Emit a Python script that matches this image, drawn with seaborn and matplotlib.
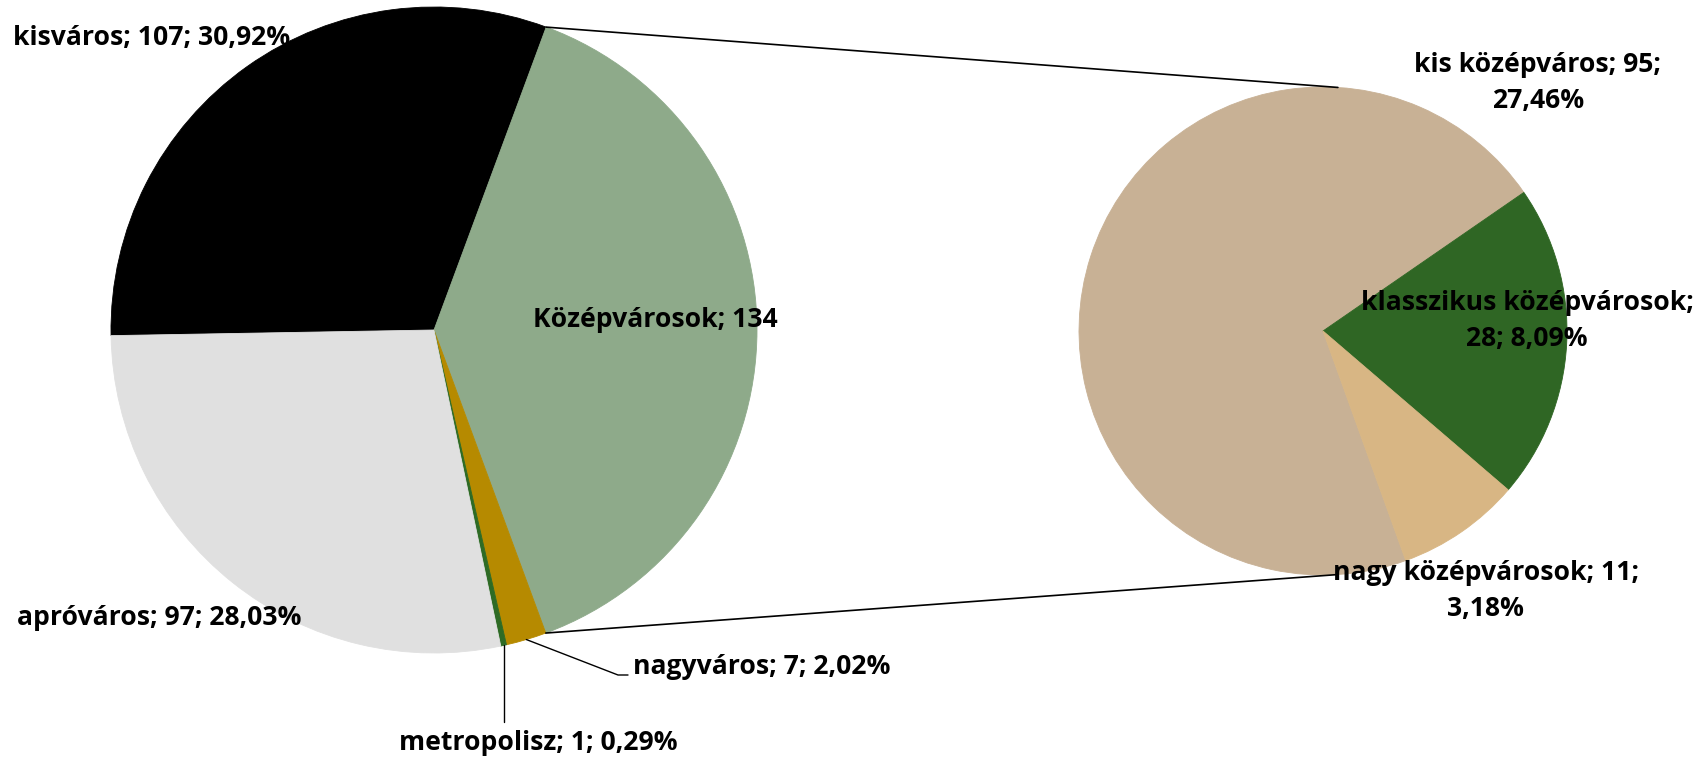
import matplotlib.pyplot as plt
import seaborn as sns
import numpy as np

# data
main_labels = ['kisváros', 'Középvárosok', 'nagyváros', 'metropolisz', 'apróváros']
main_values = [107, 134, 7, 1, 97]
sub_labels = ['kis középváros', 'klasszikus középvárosok', 'nagy középvárosok']
sub_values = [95, 28, 11]

main_colors = ['#000000', '#8eaa8a', '#b68a00', '#2e6b25', '#e0e0e0']
sub_colors = ['#c8b195', '#2f6624', '#d8b684']

total = sum(main_values)


def pct(v):
    return f'{100 * v / total:.2f}%'.replace('.', ',')


sns.set_theme(style='white')
plt.rcParams['font.family'] = ['Open Sans', 'DejaVu Sans']

W, H = 1708, 760
fig = plt.figure(figsize=(W / 100, H / 100), dpi=100)
ax = fig.add_axes([0, 0, 1, 1])
ax.set_xlim(0, W)
ax.set_ylim(0, H)


def Y(y):
    return H - y


# pie geometry (pixels)
c1, r1, start1 = (434, Y(330)), 323, 181
c2, r2, start2 = (1323, Y(331)), 244, 34.6 + 360 * sub_values[0] / sum(sub_values)

w1, _ = ax.pie(main_values, colors=main_colors, startangle=start1, counterclock=False,
               center=c1, radius=r1)
w2, _ = ax.pie(sub_values, colors=sub_colors, startangle=start2, counterclock=False,
               center=c2, radius=r2)
for w in list(w1) + list(w2):
    w.set_edgecolor(w.get_facecolor())
    w.set_linewidth(0.6)

# slice boundary angles of the main pie
bounds = start1 - 360 * np.cumsum([0] + main_values) / total


def pt(c, r, ang):
    a = np.deg2rad(ang)
    return c[0] + r * np.cos(a), c[1] + r * np.sin(a)


# connector lines between the pies
p_top = pt(c1, r1, bounds[1])
p_bot = pt(c1, r1, bounds[2])
q_top = pt(c2, r2, 86.5)
q_bot = pt(c2, r2, -86.5)
ax.plot([p_top[0], q_top[0]], [p_top[1], q_top[1]], color='black', lw=1.2, zorder=5)
ax.plot([p_bot[0], q_bot[0]], [p_bot[1], q_bot[1]], color='black', lw=1.2, zorder=5)

lab_kis = f'{main_labels[0]}; {main_values[0]}; {pct(main_values[0])}'

# size the font so the first label is as wide as in the reference (277 px)
renderer = fig.canvas.get_renderer()
probe = ax.text(0, 0, lab_kis, fontsize=20, fontweight='bold')
fs = 20 * 277 / probe.get_window_extent(renderer).width
probe.set_fontsize(fs)
probe.set_text('A')
h1 = probe.get_window_extent(renderer).height
probe.set_text('A\nA')
probe.set_linespacing(1.0)
h2 = probe.get_window_extent(renderer).height
ls = 39 / (h2 - h1)
probe.remove()

tk = dict(fontsize=fs, fontweight='bold', color='black')

ax.text(13, Y(38), lab_kis, ha='left', va='center', zorder=1, **tk)
ax.text(655, Y(320), f'{main_labels[1]}; {main_values[1]}',
        ha='center', va='center', zorder=6, **tk)
ax.text(17, Y(618), f'{main_labels[4]}; {main_values[4]}; {pct(main_values[4])}',
        ha='left', va='center', zorder=6, **tk)

# nagyváros with leader
mid = (bounds[2] + bounds[3]) / 2
p = pt(c1, r1, mid)
ax.plot([p[0], 618, 628], [p[1], Y(675), Y(675)], color='black', lw=1, zorder=5)
ax.text(633, Y(667), f'{main_labels[2]}; {main_values[2]}; {pct(main_values[2])}',
        ha='left', va='center', zorder=6, **tk)

# metropolisz with leader
mid = (bounds[3] + bounds[4]) / 2
p = pt(c1, r1, mid)
ax.plot([p[0], p[0]], [p[1], Y(722)], color='black', lw=1, zorder=5)
ax.text(538, Y(743), f'{main_labels[3]}; {main_values[3]}; {pct(main_values[3])}',
        ha='center', va='center', zorder=6, **tk)

# secondary pie labels
ax.text(1538, Y(83), f'{sub_labels[0]}; {sub_values[0]};\n{pct(sub_values[0])}',
        ha='center', va='center', linespacing=ls, zorder=6, **tk)
ax.text(1527, Y(321), f'{sub_labels[1]};\n{sub_values[1]}; {pct(sub_values[1])}',
        ha='center', va='center', linespacing=ls, zorder=6, **tk)
ax.text(1486, Y(591), f'{sub_labels[2]}; {sub_values[2]};\n{pct(sub_values[2])}',
        ha='center', va='center', linespacing=ls, zorder=6, **tk)

ax.set_xlim(0, W)
ax.set_ylim(0, H)
ax.set_aspect('equal')
ax.axis('off')

fig.savefig('out.png', dpi=100)
